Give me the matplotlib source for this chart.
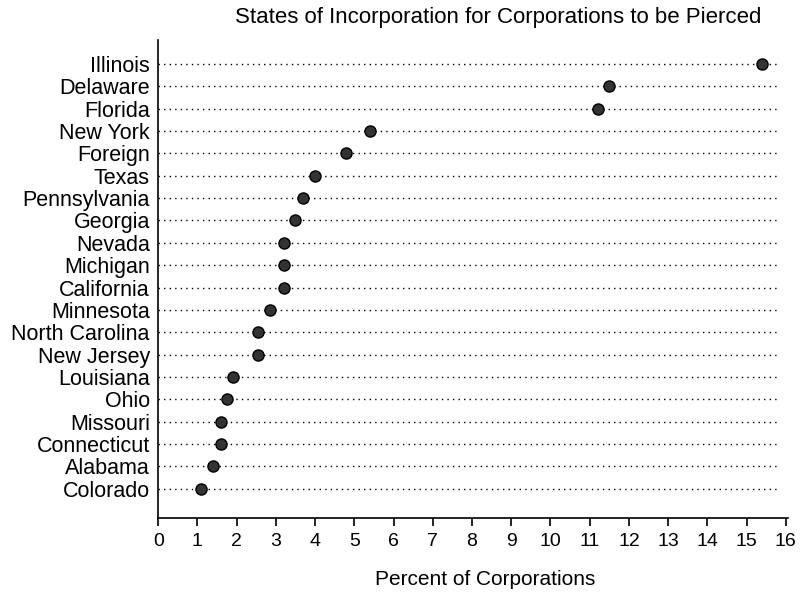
import matplotlib
matplotlib.use("Agg")

import matplotlib.pyplot as plt

# States listed top to bottom, percent of corporations
states = ["Illinois", "Delaware", "Florida", "New York", "Foreign", "Texas",
          "Pennsylvania", "Georgia", "Nevada", "Michigan", "California",
          "Minnesota", "North Carolina", "New Jersey", "Louisiana", "Ohio",
          "Missouri", "Connecticut", "Alabama", "Colorado"]
percents = [15.4, 11.5, 11.2, 5.4, 4.8, 4.0, 3.7, 3.5, 3.2, 3.2, 3.2,
            2.85, 2.55, 2.55, 1.9, 1.75, 1.6, 1.6, 1.4, 1.1]
xticks = list(range(0, 17))

plt.rcParams["font.family"] = ["Liberation Sans", "DejaVu Sans"]

fig = plt.figure(figsize=(8.03, 5.98), dpi=100)
ax = fig.add_axes([0.197, 0.134, 0.784, 0.799])

ypos = list(range(len(states) - 1, -1, -1))

# dotted guide lines
ax.hlines(ypos, 0, 15.85, colors="black", linestyles=(0, (1, 3)), linewidth=1)
ax.plot(percents, ypos, "o", color="#333333", markeredgecolor="black",
        markersize=8, zorder=3)

ax.set_xlim(0, 16.05)
ax.set_ylim(-1.3, len(states) - 1 + 1.07)
ax.set_xticks(xticks)
ax.set_xticklabels([str(t) for t in xticks], fontsize=14)
ax.set_yticks(ypos)
ax.set_yticklabels(states, fontsize=15.5)
ax.tick_params(axis="y", length=0, pad=6)
ax.tick_params(axis="x", length=6, direction="out", width=1.2, pad=5)

for side in ["top", "right"]:
    ax.spines[side].set_visible(False)
ax.spines["left"].set_linewidth(1.2)
ax.spines["bottom"].set_linewidth(1.2)

ax.set_xlabel("Percent of Corporations", fontsize=15)
ax.xaxis.set_label_coords(0.52, -0.11)
ax.set_title("States of Incorporation for Corporations to be Pierced",
             fontsize=16, pad=12, x=0.54)

plt.savefig("out.png")
plt.close()
